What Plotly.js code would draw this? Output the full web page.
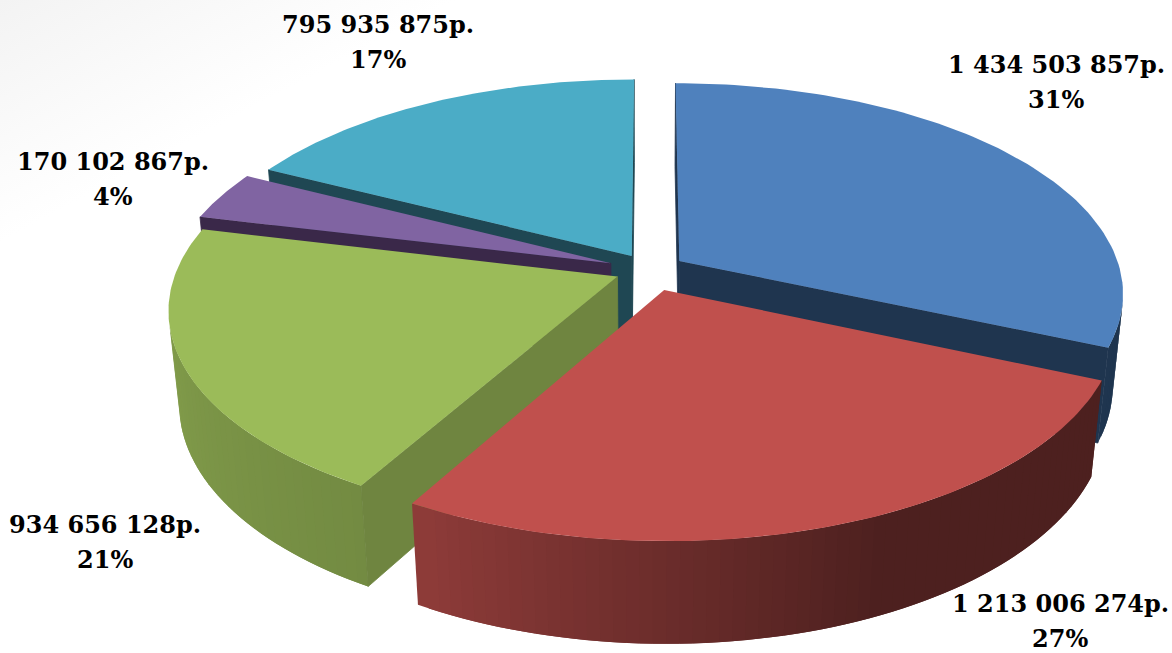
<!DOCTYPE html>
<html>
<head>
<meta charset="utf-8">
<script src="https://cdn.plot.ly/plotly-3.0.1.min.js"></script>
<style>
html,body{margin:0;padding:0;background:#fff;}
#chart{width:1172px;height:653px;background:linear-gradient(152deg,#f3f3f3 0%,#fafafa 11%,#ffffff 19%);}
</style>
</head>
<body>
<div id="chart"></div>
<script>
// Budget shares, clockwise from twelve o'clock
var amounts = [1434503857, 1213006274, 934656128, 170102867, 795935875];
var percentLabels = ['31%', '27%', '21%', '4%', '17%'];
var topColors = ['#4f81bd', '#c0504d', '#9bbb59', '#8064a2', '#4bacc6'];
var radialWallColors = ['#1f354f', '#4d1e1d', '#6f8540', '#3a2849', '#1f4753'];
var pulls = [0.08, 0.1, 0.08, 0.095, 0.08];
var paintOrder = [4, 0, 3, 2, 1];

// Where each two-line data label sits, on the pixel-sized axes
var labelX = [1056, 1060, 105, 113, 378];
var labelY = [64, 603, 524, 161, 24];
var labelLineGap = 35;

// Lighting of the rim against its facing direction (degrees clockwise from the back)
var shadeAngles = [0, 157, 210, 285, 360];
var shadeLevels = [0.4, 0.4, 0.74, 0.88, 1];

// Perspective camera for the tilted disc
var cam = {cx: 650, cy: 270, rx: 441, ry: 207, tilt: 0.15, sink: 0.022, depth: 94};
function project(u, v, d) {
  var w = 1 + cam.tilt * v + cam.sink * d;
  return [cam.cx + cam.rx * u / w, cam.cy - (cam.ry * v - cam.depth * d) / w];
}
function polar(a) { return [Math.sin(a), Math.cos(a)]; }
function signedArea(pts) {
  var s = 0;
  for (var i = 0; i < pts.length; i++) {
    var p = pts[i], q = pts[(i + 1) % pts.length];
    s += p[0] * q[1] - q[0] * p[1];
  }
  return s;
}
function shade(hex, deg) {
  var k = 1, i;
  for (i = 0; i < shadeAngles.length - 1; i++) {
    if (deg >= shadeAngles[i] && deg <= shadeAngles[i + 1]) {
      k = shadeLevels[i] + (shadeLevels[i + 1] - shadeLevels[i]) * (deg - shadeAngles[i]) / (shadeAngles[i + 1] - shadeAngles[i]);
      break;
    }
  }
  var c = [1, 3, 5].map(function (n) { return Math.round(parseInt(hex.substr(n, 2), 16) * k); });
  return 'rgb(' + c.join(',') + ')';
}
function polygon(pts, color, name, edge) {
  var xs = pts.map(function (p) { return p[0]; });
  var ys = pts.map(function (p) { return p[1]; });
  xs.push(xs[0]); ys.push(ys[0]);
  return {type: 'scatter', mode: 'lines', x: xs, y: ys, fill: 'toself', fillcolor: color,
          line: {color: color, width: edge || 0}, hoverinfo: 'skip', showlegend: false, name: name};
}
function moneyLabel(n) {
  return String(n).replace(/\B(?=(\d{3})+$)/g, ' ') + 'р.';
}

var total = amounts.reduce(function (a, b) { return a + b; }, 0);
var starts = [], run = 0;
amounts.forEach(function (v) { starts.push(run / total * 2 * Math.PI); run += v; });

var traces = [];
paintOrder.forEach(function (i) {
  var a0 = starts[i], a1 = a0 + amounts[i] / total * 2 * Math.PI;
  var mid = polar((a0 + a1) / 2);
  var ou = mid[0] * pulls[i], ov = mid[1] * pulls[i];
  var at = function (a, d) { var p = polar(a); return project(p[0] + ou, p[1] + ov, d); };
  var hub = function (d) { return project(ou, ov, d); };
  var name = moneyLabel(amounts[i]);

  // Rim: each strip runs under the following one so no seams show
  var steps = Math.max(4, Math.ceil((a1 - a0) / (Math.PI / 120)));
  var strip = (a1 - a0) / steps;
  var rim = [];
  for (var s = 0; s < steps; s++) {
    var b0 = a0 + strip * s, b1 = b0 + strip;
    var probe = [at(b1, 0), at(b0, 0), at(b0, 1), at(b1, 1)];
    if (signedArea(probe) > 0) {
      var far = Math.max(a0, b0 - strip);
      var quad = [at(b1, 0), at(far, 0), at(far, 1), at(b1, 1)];
      var deg = (b0 + b1) / 2 * 180 / Math.PI;
      var color = i === 0 ? radialWallColors[0] : shade(topColors[i], deg);
      rim.push(polygon(quad, color, name));
    }
  }
  traces = traces.concat(rim);

  // Flat cut faces toward the hub, edged so they close up against the rim
  var cutA = [hub(0), hub(1), at(a0, 1), at(a0, 0)];
  var cutB = [at(a1, 0), at(a1, 1), hub(1), hub(0)];
  if (signedArea(cutA) > 0) traces.push(polygon(cutA, radialWallColors[i], name, 0.8));
  if (signedArea(cutB) > 0) traces.push(polygon(cutB, radialWallColors[i], name, 0.8));

  // Top face
  var face = [hub(0)];
  for (var t = 0; t <= 90; t++) face.push(at(a0 + (a1 - a0) * t / 90, 0));
  traces.push(polygon(face, topColors[i], name));
});

var annotations = [];
amounts.forEach(function (v, i) {
  [moneyLabel(v), percentLabels[i]].forEach(function (line, n) {
    annotations.push({xref: 'x', yref: 'y', x: labelX[i], y: labelY[i] + n * labelLineGap,
      text: line, showarrow: false, xanchor: 'center', yanchor: 'middle',
      font: {family: '"DejaVu Serif", serif', size: 24, color: '#000', weight: 700}});
  });
});

var hiddenAxis = {visible: false, fixedrange: true, showgrid: false, zeroline: false};
Plotly.newPlot('chart', traces, {
  width: 1172, height: 653,
  margin: {l: 0, r: 0, t: 0, b: 0},
  paper_bgcolor: 'rgba(0,0,0,0)', plot_bgcolor: 'rgba(0,0,0,0)',
  showlegend: false,
  xaxis: Object.assign({range: [0, 1172]}, hiddenAxis),
  yaxis: Object.assign({range: [653, 0]}, hiddenAxis),
  annotations: annotations
}, {displayModeBar: false, staticPlot: true});
</script>
</body>
</html>
